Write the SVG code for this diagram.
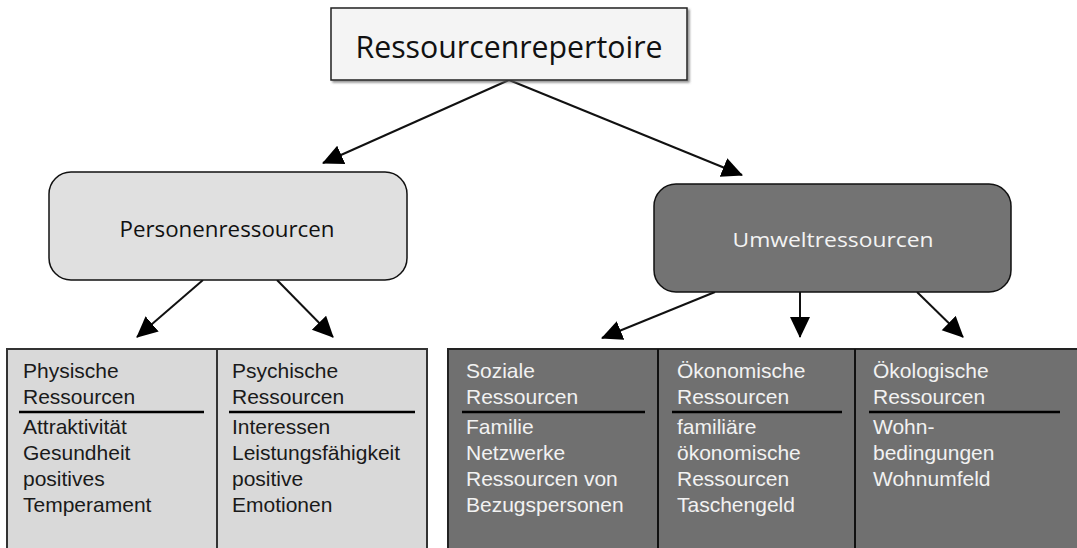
<svg xmlns="http://www.w3.org/2000/svg" width="1077" height="548" viewBox="0 0 1077 548">
<defs>
<marker id="ah" markerUnits="userSpaceOnUse" markerWidth="24" markerHeight="22" refX="20" refY="10" orient="auto">
<path d="M0,0 L21,10 L0,20 Z" fill="#000"/>
</marker>
<filter id="sh" x="-5%" y="-5%" width="115%" height="130%">
<feDropShadow dx="2" dy="2" stdDeviation="1" flood-color="#666" flood-opacity="0.7"/>
</filter>
</defs>
<style>
.head{font-family:"Open Sans","Noto Sans",sans-serif;}
.tbl{font-family:"Liberation Sans",Arial,sans-serif;font-size:21px;}
.dark{fill:#1a1a1a;}
.light{fill:#f2f2f2;}
.conn line{stroke:#111;stroke-width:2;marker-end:url(#ah);}
.rule{stroke:#000;stroke-width:2.5;}
</style>
<rect width="1077" height="548" fill="#fff"/>

<g id="connectors" class="conn">
<line x1="509" y1="80" x2="323" y2="163"/>
<line x1="509" y1="80" x2="742" y2="175"/>
<line x1="203" y1="280" x2="137" y2="337"/>
<line x1="277" y1="280" x2="333" y2="337"/>
<line x1="715" y1="292" x2="602" y2="338"/>
<line x1="800" y1="292" x2="800" y2="337"/>
<line x1="917" y1="292" x2="963" y2="337"/>
</g>

<g id="root">
<rect x="331" y="8" width="356" height="72" fill="#f4f4f4" stroke="#222" stroke-width="1.5" filter="url(#sh)"/>
<text class="head" x="509" y="58" font-size="31" text-anchor="middle" fill="#111" textLength="307" lengthAdjust="spacingAndGlyphs">Ressourcenrepertoire</text>
</g>

<g id="personen">
<rect x="49" y="172" width="358" height="108" rx="22" ry="22" fill="#e0e0e0" stroke="#111" stroke-width="1.5"/>
<text class="head" x="227" y="237" font-size="21" text-anchor="middle" fill="#111" textLength="215" lengthAdjust="spacingAndGlyphs">Personenressourcen</text>
</g>

<g id="umwelt">
<rect x="654" y="184" width="357" height="108" rx="22" ry="22" fill="#737373" stroke="#111" stroke-width="1.5"/>
<text class="head" x="833" y="247" font-size="20" text-anchor="middle" fill="#f4f4f4" textLength="201" lengthAdjust="spacingAndGlyphs">Umweltressourcen</text>
</g>

<g id="personen-table">
<rect x="7" y="349" width="420" height="210" fill="#d9d9d9" stroke="#333" stroke-width="2"/>
<line x1="217" y1="349" x2="217" y2="560" stroke="#333" stroke-width="2"/>
<line class="rule" x1="19" y1="412" x2="204" y2="412"/>
<line class="rule" x1="229" y1="412" x2="415" y2="412"/>
<g id="physische" class="tbl dark">
<text x="23" y="378">Physische</text>
<text x="23" y="404">Ressourcen</text>
<text x="23" y="434">Attraktivität</text>
<text x="23" y="460">Gesundheit</text>
<text x="23" y="486">positives</text>
<text x="23" y="512">Temperament</text>
</g>
<g id="psychische" class="tbl dark">
<text x="232" y="378">Psychische</text>
<text x="232" y="404">Ressourcen</text>
<text x="232" y="434">Interessen</text>
<text x="232" y="460">Leistungsfähigkeit</text>
<text x="232" y="486">positive</text>
<text x="232" y="512">Emotionen</text>
</g>
</g>

<g id="umwelt-table">
<rect x="448" y="349" width="640" height="210" fill="#707070" stroke="#222" stroke-width="2"/>
<line x1="658" y1="349" x2="658" y2="560" stroke="#111" stroke-width="2"/>
<line x1="855" y1="349" x2="855" y2="560" stroke="#111" stroke-width="2"/>
<line class="rule" x1="462" y1="412" x2="645" y2="412"/>
<line class="rule" x1="672" y1="412" x2="842" y2="412"/>
<line class="rule" x1="869" y1="412" x2="1060" y2="412"/>
<g id="soziale" class="tbl light">
<text x="466" y="378">Soziale</text>
<text x="466" y="404">Ressourcen</text>
<text x="466" y="434">Familie</text>
<text x="466" y="460">Netzwerke</text>
<text x="466" y="486">Ressourcen von</text>
<text x="466" y="512">Bezugspersonen</text>
</g>
<g id="oekonomische" class="tbl light">
<text x="677" y="378">Ökonomische</text>
<text x="677" y="404">Ressourcen</text>
<text x="677" y="434">familiäre</text>
<text x="677" y="460">ökonomische</text>
<text x="677" y="486">Ressourcen</text>
<text x="677" y="512">Taschengeld</text>
</g>
<g id="oekologische" class="tbl light">
<text x="873" y="378">Ökologische</text>
<text x="873" y="404">Ressourcen</text>
<text x="873" y="434">Wohn-</text>
<text x="873" y="460">bedingungen</text>
<text x="873" y="486">Wohnumfeld</text>
</g>
</g>
</svg>
